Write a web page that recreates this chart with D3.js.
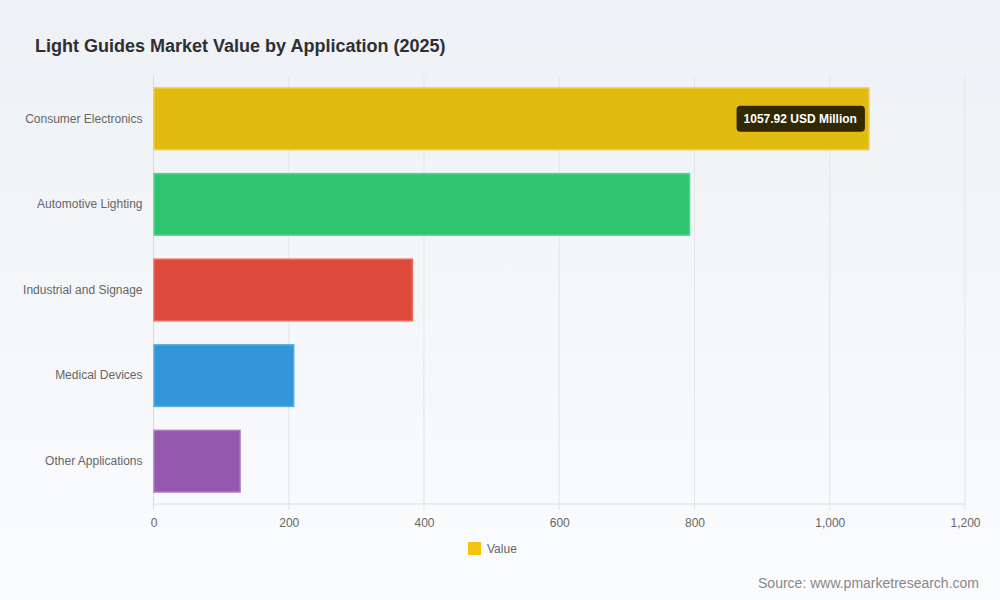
<!DOCTYPE html>
<html>
<head>
<meta charset="utf-8">
<script src="https://cdn.jsdelivr.net/npm/d3@7/dist/d3.min.js"></script>
<style>
  html, body { margin: 0; padding: 0; }
  body {
    width: 1000px; height: 600px; overflow: hidden;
    background: linear-gradient(180deg, #eef1f5 0%, #fbfcfe 100%);
    font-family: "Liberation Sans", Arial, Helvetica, sans-serif;
  }
  .axis path, .axis line { stroke: #dcdfe3; }
  .axis text { fill: #666; font-size: 12px; }
</style>
</head>
<body>
<div id="chart"></div>
<script>
// data
var categories = ['Consumer Electronics', 'Automotive Lighting', 'Industrial and Signage', 'Medical Devices', 'Other Applications']
var values = [1057.92, 792.8, 382.9, 207.4, 128.0]
var fills = ['#e1bb10', '#2ec56f', '#dd4a3b', '#3396d8', '#9558b0']
var strokes = ['#f3cc3a', '#5bd690', '#ee6b5d', '#5aaee6', '#ad7cc6']
var xTicks = [0, 200, 400, 600, 800, 1000, 1200]
var tooltipText = '1057.92 USD Million'

var W = 1000, H = 600
var margin = { top: 76, right: 35, bottom: 96, left: 153.5 }
var width = 965 - margin.left, height = 504 - margin.top

var svg = d3.select('#chart').append('svg')
    .attr('width', W)
    .attr('height', H)

svg.append('text')
    .attr('x', 35)
    .attr('y', 52)
    .style('font-size', '18px')
    .style('font-weight', 'bold')
    .style('fill', '#2d2f33')
    .text('Light Guides Market Value by Application (2025)')

var g = svg.append('g')
    .attr('transform', 'translate(' + margin.left + ',' + margin.top + ')')

var x = d3.scaleLinear().domain([0, 1200]).range([0, width])
var y = d3.scaleBand().domain(categories).range([0, height]).paddingInner(0.28).paddingOuter(0.14)

// vertical grid
g.selectAll('.grid')
    .data(xTicks)
    .enter()
    .append('line')
    .attr('x1', function (d) { return x(d) })
    .attr('x2', function (d) { return x(d) })
    .attr('y1', 0)
    .attr('y2', height + 6)
    .attr('stroke', '#e3e5e8')
    .attr('stroke-width', 1)

// x axis
var xAxis = g.append('g')
    .attr('class', 'axis')
    .attr('transform', 'translate(0,' + height + ')')
    .call(d3.axisBottom(x).tickValues(xTicks).tickSize(6).tickPadding(8).tickFormat(d3.format(',')))
xAxis.select('.domain').remove()
xAxis.selectAll('line').remove()
g.append('line')
    .attr('x1', 0).attr('x2', width)
    .attr('y1', height).attr('y2', height)
    .attr('stroke', '#dcdfe3')

// y axis
var yAxis = g.append('g')
    .attr('class', 'axis')
    .call(d3.axisLeft(y).tickSize(0).tickPadding(11))
yAxis.select('.domain').remove()
g.append('line')
    .attr('x1', 0).attr('x2', 0)
    .attr('y1', 0).attr('y2', height + 6)
    .attr('stroke', '#d6d9dd')

// bars
g.selectAll('.bar')
    .data(values)
    .enter()
    .append('rect')
    .attr('class', 'bar')
    .attr('x', x(0) + 0.5)
    .attr('y', function (d, i) { return y(categories[i]) })
    .attr('width', function (d) { return x(d) - x(0) - 0.5 })
    .attr('height', y.bandwidth())
    .attr('fill', function (d, i) { return fills[i] })
    .attr('stroke', function (d, i) { return strokes[i] })
    .attr('stroke-width', 1.5)

// tooltip on the first bar
var tipRight = x(values[0]) - 4
var tipY = y(categories[0]) + y.bandwidth() / 2
var tip = g.append('g')
var tipLabel = tip.append('text')
    .attr('x', tipRight - 8)
    .attr('y', tipY)
    .attr('dy', '0.35em')
    .attr('text-anchor', 'end')
    .style('font-size', '12px')
    .style('font-weight', 'bold')
    .style('fill', '#fff')
    .text(tooltipText)
var bb = tipLabel.node().getBBox()
tip.insert('rect', 'text')
    .attr('x', bb.x - 7)
    .attr('y', tipY - 13)
    .attr('width', bb.width + 15)
    .attr('height', 26)
    .attr('rx', 4)
    .attr('fill', 'rgba(0,0,0,0.78)')

// legend
var legend = svg.append('g').attr('transform', 'translate(468,542)')
legend.append('rect')
    .attr('width', 13).attr('height', 13)
    .attr('fill', '#f1c40f')
legend.append('text')
    .attr('x', 19)
    .attr('y', 7)
    .attr('dy', '0.35em')
    .style('font-size', '12px')
    .style('fill', '#666')
    .text('Value')

svg.append('text')
    .attr('x', 979)
    .attr('y', 588)
    .attr('text-anchor', 'end')
    .style('font-size', '14px')
    .style('fill', '#888')
    .text('Source: www.pmarketresearch.com')
</script>
</body>
</html>
